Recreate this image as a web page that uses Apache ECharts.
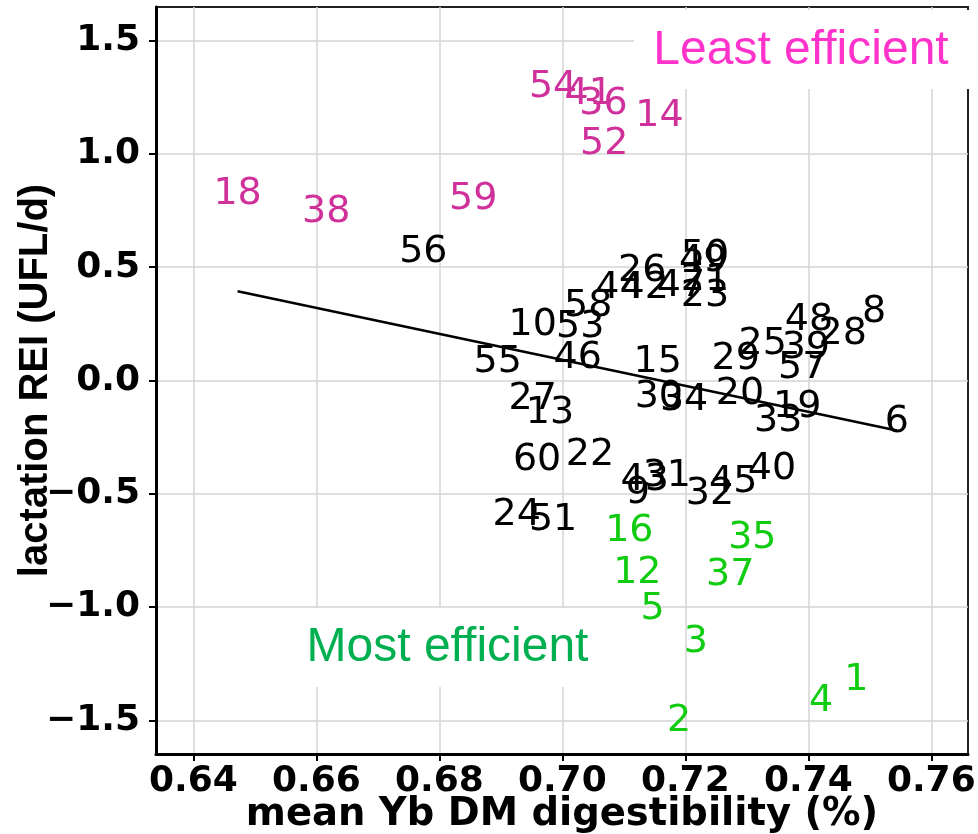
<!DOCTYPE html>
<html>
<head>
<meta charset="utf-8">
<script src="https://cdn.jsdelivr.net/npm/echarts@6/dist/echarts.min.js"></script>
<style>
html,body{margin:0;padding:0;background:#fff;}
#chart{width:978px;height:834px;}
</style>
</head>
<body>
<div id="chart"></div>
<script>
// ---- data ----
const xTicks = [0.64, 0.66, 0.68, 0.70, 0.72, 0.74, 0.76];
const xTickLabels = ["0.64", "0.66", "0.68", "0.70", "0.72", "0.74", "0.76"];
const yTicks = [-1.5, -1.0, -0.5, 0.0, 0.5, 1.0, 1.5];
const yTickLabels = ["\u22121.5", "\u22121.0", "\u22120.5", "0.0", "0.5", "1.0", "1.5"];

// [digestibility, REI, cow id]
const leastEfficient = [
  [0.6472, 0.832, "18"], [0.6616, 0.750, "38"], [0.6855, 0.808, "59"],
  [0.6985, 1.302, "54"], [0.7043, 1.271, "41"], [0.7067, 1.229, "36"],
  [0.7158, 1.174, "14"], [0.7068, 1.053, "52"]
];
const mostEfficient = [
  [0.7109, -0.658, "16"], [0.7122, -0.843, "12"], [0.7147, -1.000, "5"],
  [0.7217, -1.147, "3"], [0.7190, -1.496, "2"], [0.7421, -1.408, "4"],
  [0.7478, -1.315, "1"], [0.7309, -0.688, "35"], [0.7273, -0.850, "37"]
];
const otherCows = [
  [0.6774, 0.574, "56"], [0.7130, 0.490, "26"], [0.7093, 0.415, "44"],
  [0.7134, 0.415, "42"], [0.7193, 0.424, "47"], [0.7232, 0.556, "50"],
  [0.7229, 0.538, "49"], [0.7232, 0.450, "21"], [0.7232, 0.380, "23"],
  [0.7042, 0.335, "58"], [0.6952, 0.252, "10"], [0.7029, 0.243, "53"],
  [0.6895, 0.088, "55"], [0.7025, 0.108, "46"], [0.7155, 0.088, "15"],
  [0.6952, -0.075, "27"], [0.6980, -0.137, "13"], [0.7157, -0.066, "30"],
  [0.7198, -0.079, "34"], [0.7282, 0.104, "29"], [0.7326, 0.170, "25"],
  [0.7396, 0.152, "39"], [0.7401, 0.276, "48"], [0.7456, 0.214, "28"],
  [0.7507, 0.311, "8"], [0.7390, 0.062, "57"], [0.7289, -0.051, "20"],
  [0.7351, -0.170, "33"], [0.7382, -0.110, "19"], [0.7544, -0.174, "6"],
  [0.6959, -0.342, "60"], [0.7045, -0.320, "22"], [0.6926, -0.585, "24"],
  [0.6985, -0.607, "51"], [0.7134, -0.433, "43"], [0.7123, -0.490, "9"],
  [0.7170, -0.415, "31"], [0.7240, -0.494, "32"], [0.7278, -0.441, "45"],
  [0.7341, -0.382, "40"]
];
// fitted regression line (end points at min / max digestibility)
const trendLine = [[0.6472, 0.394], [0.7544, -0.221]];

const xRange = [0.63393, 0.76597];
const yRange = [-1.649, 1.649];

// ---- chart ----
const chart = echarts.init(document.getElementById('chart'), null, {renderer: 'canvas'});
const R_FONT = 'DejaVu Sans';

function tickLabel(ticks, labels) {
  return function (v) {
    const i = ticks.findIndex(t => Math.abs(t - v) < 1e-9);
    return i >= 0 ? labels[i] : '';
  };
}

function labelSeries(data, color) {
  return {
    type: 'scatter',
    data: data,
    symbol: 'circle',
    symbolSize: 1,
    itemStyle: {color: 'rgba(0,0,0,0)', opacity: 1},
    silent: true,
    z: 3,
    label: {
      show: true,
      position: 'inside',
      offset: [0, 2],
      formatter: p => p.data[2],
      color: color,
      opacity: 1,
      fontFamily: R_FONT,
      fontSize: 38,
      fontWeight: 'normal'
    }
  };
}

const option = {
  animation: false,
  backgroundColor: '#fff',
  grid: {
    left: 156, right: 10, top: 7, bottom: 80,
    containLabel: false, outerBoundsMode: 'none',
    show: true, borderColor: '#222', borderWidth: 2, backgroundColor: '#fff'
  },
  xAxis: {
    type: 'value',
    min: xRange[0], max: xRange[1],
    name: 'mean Yb DM digestibility (%)',
    nameLocation: 'middle',
    nameGap: 41,
    nameMoveOverlap: false,
    nameTextStyle: {fontFamily: R_FONT, fontWeight: 'bold', fontSize: 38.5, color: '#000'},
    axisLine: {show: true, onZero: false, lineStyle: {color: '#000', width: 3}},
    axisTick: {show: true, length: 7, customValues: xTicks, lineStyle: {color: '#000', width: 2}},
    axisLabel: {
      customValues: xTicks, formatter: tickLabel(xTicks, xTickLabels),
      fontFamily: R_FONT, fontWeight: 'bold', fontSize: 36, color: '#000', margin: 10
    },
    splitLine: {show: true, lineStyle: {color: '#d4d4d4', width: 1.5}}
  },
  yAxis: {
    type: 'value',
    min: yRange[0], max: yRange[1],
    name: 'lactation REI (UFL/d)',
    nameLocation: 'middle',
    nameGap: 100,
    nameMoveOverlap: false,
    nameTextStyle: {fontFamily: 'Liberation Sans', fontWeight: 'bold', fontSize: 40, color: '#000'},
    axisLine: {show: true, onZero: false, lineStyle: {color: '#000', width: 3}},
    axisTick: {show: true, length: 7, customValues: yTicks, lineStyle: {color: '#000', width: 2}},
    axisLabel: {
      customValues: yTicks, formatter: tickLabel(yTicks, yTickLabels),
      fontFamily: R_FONT, fontWeight: 'bold', fontSize: 36, color: '#000', margin: 16
    },
    splitLine: {show: true, lineStyle: {color: '#d4d4d4', width: 1.5}}
  },
  series: [
    labelSeries(otherCows, '#000000'),
    labelSeries(leastEfficient, '#d0309a'),
    labelSeries(mostEfficient, '#12cc12'),
    {
      type: 'line',
      data: trendLine,
      symbol: 'none',
      silent: true,
      z: 4,
      lineStyle: {color: '#000', width: 2.5}
    }
  ],
  graphic: [
    {type: 'rect', z: 50, shape: {x: 634, y: 10, width: 344, height: 79}, style: {fill: '#fff'}},
    {type: 'text', z: 51, x: 801, y: 51,
      style: {text: 'Least efficient', fill: '#ff33cc', font: '48px "Liberation Sans"', align: 'center', verticalAlign: 'middle'}},
    {type: 'rect', z: 50, shape: {x: 287, y: 608, width: 321, height: 79}, style: {fill: '#fff'}},
    {type: 'text', z: 51, x: 447.5, y: 647.5,
      style: {text: 'Most efficient', fill: '#00b050', font: '48px "Liberation Sans"', align: 'center', verticalAlign: 'middle'}}
  ]
};
chart.setOption(option);
</script>
</body>
</html>
